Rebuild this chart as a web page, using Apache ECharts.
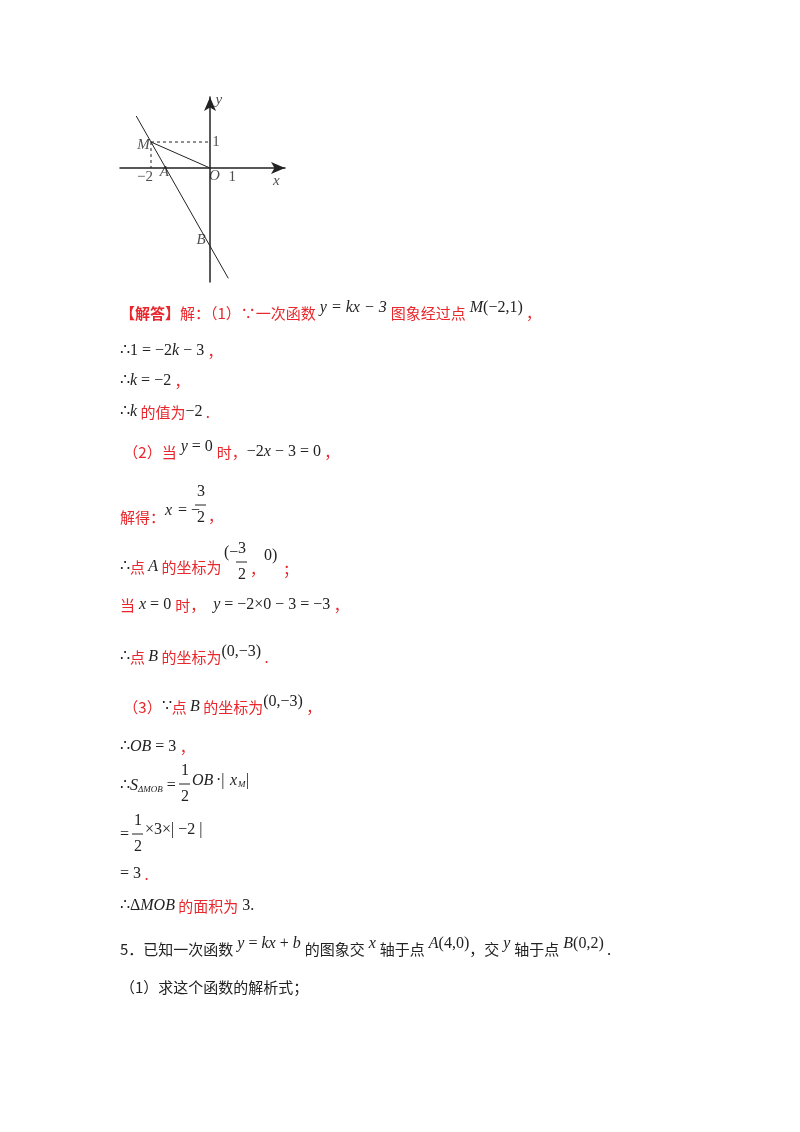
<!DOCTYPE html>
<html><head><meta charset="utf-8">
<script src="https://cdn.jsdelivr.net/npm/echarts@6/dist/echarts.min.js"></script>
<style>html,body{margin:0;padding:0;background:#fff}#main{width:800px;height:1132px}</style>
</head><body><div id="main"></div>
<script>
// 直线 y = -2x - 3 的两端
var linePts = [[-2.5, 2.0], [0.62, -4.24]];
var segMO = [[-2, 1], [0, 0]];
var dashH = [[-2, 1], [0, 1]];
var dashV = [[-2, 1], [-2, 0]];
// 图上标注 [x, y, 文本, 斜体]
var graphLabels = [
  [0.3, 2.6, 'y', true], [0.2, 1.0, '1', false], [-2.25, 0.9, 'M', true],
  [-2.2, -0.35, '−2', false], [-1.55, -0.15, 'A', true], [0.15, -0.3, 'O', true],
  [0.75, -0.35, '1', false], [2.25, -0.5, 'x', true], [-0.3, -2.75, 'B', true]
];

var RED = '#e8262b';
var cj = 'Noto Sans CJK SC';
var mf = 'Liberation Serif';
var rich = {
  r: {fill: RED, font: '15px "' + cj + '"', verticalAlign: 'bottom'},
  rb: {fill: RED, font: 'bold 15px "' + cj + '"', verticalAlign: 'bottom'},
  k: {fill: '#222', font: '15px "' + cj + '"', verticalAlign: 'bottom'},
  m: {fill: '#222', font: 'italic 16px "' + mf + '"', verticalAlign: 'bottom'},
  n: {fill: '#222', font: '16px "' + mf + '"', verticalAlign: 'bottom'},
  mu: {fill: '#222', font: 'italic 16px "' + mf + '"', verticalAlign: 'top'},
  nu: {fill: '#222', font: '16px "' + mf + '"', verticalAlign: 'top'},
  s: {fill: '#222', font: 'italic 9px "' + mf + '"', verticalAlign: 'bottom'}
};
// 每行：[x, y, [[样式, 文本], ...]]
var lines = [
  [120, 318, [['rb','【解答】'],['r','解：（1）∵一次函数'],['mu',' y = kx − 3 '],['r','图象经过点'],['mu',' M'],['nu','(−2,1)'],['r',' ，']]],
  [120, 356, [['n','∴1 = −2'],['m','k'],['n',' − 3'],['r',' ，']]],
  [120, 386, [['n','∴'],['m','k'],['n',' = −2'],['r',' ，']]],
  [120, 417, [['n','∴'],['m','k'],['r',' 的值为'],['n','−2'],['r',' .']]],
  [120, 457, [['r',' （2）当'],['mu',' y'],['nu',' = 0 '],['r','时，'],['n','−2'],['m','x'],['n',' − 3 = 0'],['r',' ，']]],
  [120, 522, [['r','解得：']]],
  [120, 572, [['n','∴'],['r','点 '],['m','A'],['r',' 的坐标为']]],
  [120, 610, [['r','当'],['m',' x'],['n',' = 0 '],['r','时，'],['m','  y'],['n',' = −2×0 − 3 = −3'],['r',' ，']]],
  [120, 662, [['n','∴'],['r','点 '],['m','B'],['r',' 的坐标为'],['nu','(0,−3)'],['r',' .']]],
  [120, 712, [['r',' （3）'],['n','∵'],['r','点 '],['m','B'],['r',' 的坐标为'],['nu','(0,−3)'],['r',' ，']]],
  [120, 752, [['n','∴'],['m','OB'],['n',' = 3'],['r',' ，']]],
  [120, 791, [['n','∴'],['m','S'],['s','ΔMOB'],['n',' =']]],
  [120, 840, [['n','=']]],
  [120, 879, [['n','= 3'],['r',' .']]],
  [120, 911, [['n','∴Δ'],['m','MOB'],['r',' 的面积为'],['n',' 3.']]],
  [120, 954, [['k','5．已知一次函数'],['mu',' y'],['nu',' = '],['mu','kx'],['nu',' + '],['mu','b '],['k','的图象交'],['mu',' x '],['k','轴于点'],['mu',' A'],['nu','(4,0)'],['k','，交'],['mu',' y '],['k','轴于点'],['mu',' B'],['nu','(0,2)'],['k',' .']]],
  [120, 992, [['k','（1）求这个函数的解析式；']]]
];
// 零散片段 [x, y中心, 样式, 文本]
var pieces = [
  [165, 511, 'm', 'x'], [178, 511, 'n', '= −'], [197, 492, 'n', '3'], [197, 518, 'n', '2'], [208, 516, 'r', '，'],
  [224, 553, 'n', '(−'], [238, 549, 'n', '3'], [238, 575, 'n', '2'], [250, 569, 'r', '，'], [264, 556, 'n', '0)'], [283, 569, 'r', '；'],
  [181, 771, 'n', '1'], [181, 797, 'n', '2'], [192, 781, 'm', 'OB'], [216, 781, 'n', '·| '], [230, 781, 'm', 'x'], [238, 785, 's', 'M'], [246, 781, 'n', '|'],
  [134, 821, 'n', '1'], [134, 847, 'n', '2'], [145, 830, 'n', '×3×| −2 |']
];
var bars = [[195, 505, 206], [236, 562, 247], [179, 784, 190], [132, 834, 143]];

var chart = echarts.init(document.getElementById('main'));
var graphic = [];
lines.forEach(function (l) {
  graphic.push({type: 'text', left: l[0], top: l[1] - 18, style: {
    text: l[2].map(function (s) { return '{' + s[0] + '|' + s[1] + '}'; }).join(''),
    rich: rich, lineHeight: 21
  }});
});
pieces.forEach(function (p) {
  var st = rich[p[2]];
  graphic.push({type: 'text', x: p[0], y: p[1], style: {text: p[3], fill: st.fill, font: st.font, verticalAlign: 'middle'}});
});
bars.forEach(function (b) {
  graphic.push({type: 'line', shape: {x1: b[0], y1: b[1], x2: b[2], y2: b[1]}, style: {stroke: '#222', lineWidth: 1}});
});

function seg(d, dashed) {
  return {type: 'line', data: d, symbol: 'none', silent: true,
    lineStyle: {color: '#222', width: 1, type: dashed ? [3, 3] : 'solid'}};
}
chart.setOption({
  animation: false,
  grid: {left: 120, top: 97, width: 165, height: 185},
  xAxis: {type: 'value', min: -3.05, max: 2.54, splitLine: {show: false},
    axisLine: {onZero: true, symbol: ['none', 'arrow'], symbolSize: [9, 14], lineStyle: {color: '#222', width: 1.5}},
    axisTick: {show: false}, axisLabel: {show: false}},
  yAxis: {type: 'value', min: -4.38, max: 2.73, splitLine: {show: false},
    axisLine: {onZero: true, symbol: ['none', 'arrow'], symbolSize: [9, 14], lineStyle: {color: '#222', width: 1.5}},
    axisTick: {show: false}, axisLabel: {show: false}},
  series: [
    seg(linePts), seg(segMO), seg(dashH, true), seg(dashV, true),
    {type: 'scatter', symbolSize: 0, silent: true,
      data: graphLabels.map(function (g) { return {value: [g[0], g[1]], label: {show: true, formatter: g[2], position: 'inside',
        fontFamily: mf, fontStyle: g[3] ? 'italic' : 'normal', fontSize: 15, color: '#222'}}; })}
  ],
  graphic: graphic
});
</script></body></html>
